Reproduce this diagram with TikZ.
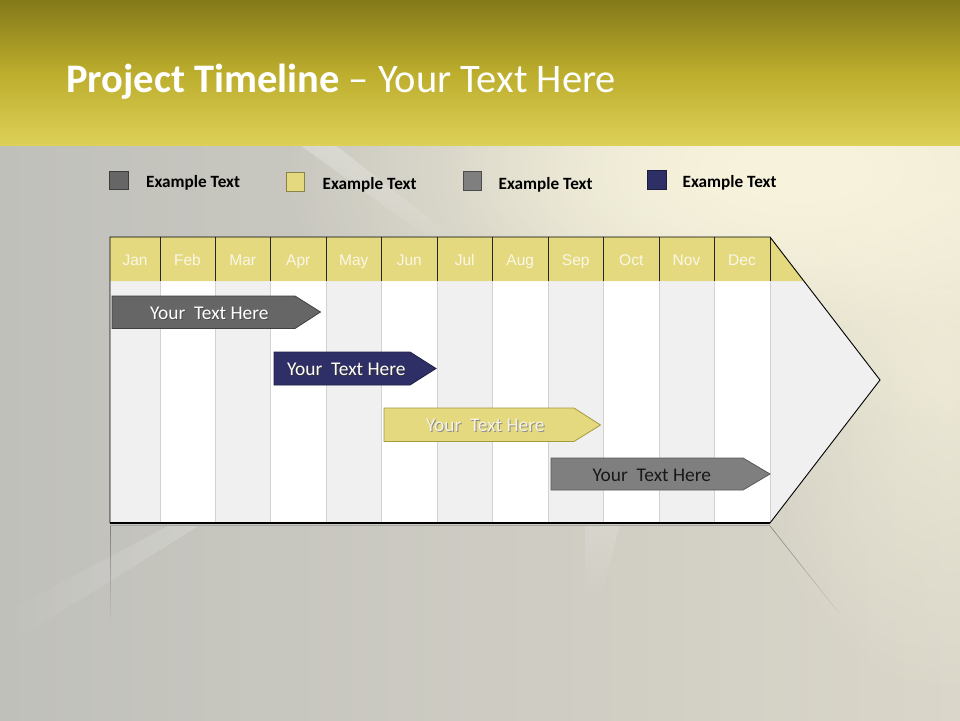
\documentclass[tikz,border=0pt]{standalone}
\usepackage{fontspec}
\setmainfont{Carlito}
\newfontfamily\arialf{Liberation Sans}
\usetikzlibrary{fadings}
\definecolor{hdrtop}{HTML}{837919}
\definecolor{hdrmid}{HTML}{BCAD2D}
\definecolor{hdrbot}{HTML}{DDD057}
\definecolor{bgleft}{HTML}{C0C0BB}
\definecolor{bgright}{HTML}{DAD6C9}
\definecolor{cream}{HTML}{F7F3DC}
\definecolor{ylw}{HTML}{E4D97F}
\definecolor{ylwdk}{HTML}{A49A3C}
\definecolor{colg}{HTML}{F0F0F0}
\definecolor{sepg}{HTML}{D2D2D2}
\definecolor{navy}{HTML}{2F2F68}
\definecolor{navydk}{HTML}{1E1E45}
\definecolor{dgray}{HTML}{666666}
\definecolor{mgray}{HTML}{7F7F7F}
\definecolor{edgek}{HTML}{404040}
\definecolor{monthtxt}{HTML}{FAF7E8}
\tikzfading[name=fadedown, top color=transparent!0, bottom color=transparent!100]
\tikzfading[name=fadeleft, left color=transparent!100, right color=transparent!0]
\tikzfading[name=softglow, inner color=transparent!0, outer color=transparent!100]
\tikzset{
  legsq/.style={draw=#1!60!black, line width=0.8pt},
  legtxt/.style={anchor=base west, font=\fontsize{17.2}{20}\selectfont\bfseries, text=black, inner sep=0pt},
  monthlbl/.style={anchor=base, font=\arialf\fontsize{15.5}{18}\selectfont, text=monthtxt, inner sep=0pt},
  bartxt/.style={anchor=base west, font=\fontsize{19.4}{22}\selectfont, inner sep=0pt},
  barshape/.style={line width=0.8pt},
}
\begin{document}
\begin{tikzpicture}[x=1pt,y=-1pt]
\useasboundingbox (0,0) rectangle (960,720);
% ---------- background ----------
\shade[left color=bgleft, right color=bgright] (0,145) rectangle (960,720);
\begin{scope}
\clip (0,145) rectangle (960,720);
\fill[cream, path fading=softglow] (800,170) ellipse (520 and 260);
\fill[cream, path fading=softglow] (800,170) ellipse (360 and 160);
\fill[cream, opacity=0.6, path fading=softglow] (940,380) ellipse (200 and 320);
\end{scope}
\fill[white, opacity=0.25, path fading=fadedown] (300,145) -- (335,145) -- (470,250) -- (445,250) -- cycle;
\fill[white, opacity=0.18, path fading=fadeleft] (0,615) -- (0,650) -- (200,525) -- (170,525) -- cycle;
\fill[white, opacity=0.15, path fading=fadedown] (585,525) -- (620,525) -- (600,600) -- (585,600) -- cycle;
% ---------- header band ----------
\shade[top color=hdrtop, bottom color=hdrbot, middle color=hdrmid] (0,0) rectangle (960,145);
\node[anchor=base west, inner sep=0pt, text=white] (title) at (66,92)
  {\fontsize{40.5}{45}\selectfont\textbf{Project Timeline} – Your Text Here};
% ---------- legend ----------
\fill[legsq=dgray, fill=dgray] (109,171) rectangle (128,189);
\node[legtxt] (l1) at (146,187) {Example Text};
\fill[legsq=ylw, fill=ylw] (286,172) rectangle (304,191);
\node[legtxt] (l2) at (322.5,189) {Example Text};
\fill[legsq=mgray, fill=mgray] (463,171) rectangle (481,190);
\node[legtxt] (l3) at (498.5,189) {Example Text};
\fill[legsq=navy, fill=navy] (647,170) rectangle (666,189);
\node[legtxt] (l4) at (682.5,187) {Example Text};
% ---------- table body ----------
\foreach \m/\a/\b/\f in {Jan/110/160/colg, Feb/160/215/white, Mar/215/270.5/colg,
  Apr/270.5/326/white, May/326/381.5/colg, Jun/381.5/437/white, Jul/437/492.5/colg,
  Aug/492.5/548/white, Sep/548/603.5/colg, Oct/603.5/659/white, Nov/659/714/colg,
  Dec/714/770/white}{
  \fill[\f] (\a,281) rectangle (\b,523);
}
\fill[colg] (770,281) -- (803.8,281) -- (880,380) -- (770,523) -- cycle;
% header row
\fill[ylw] (110,237) -- (770,237) -- (803.8,281) -- (110,281) -- cycle;
\foreach \x in {160,215,270.5,326,381.5,437,492.5,548,603.5,659,714,770}{
  \draw[sepg, line width=1pt] (\x,281) -- (\x,522);
  \draw[black!85, line width=1pt] (\x,237) -- (\x,281);
}
\foreach \m/\a/\b in {Jan/110/160, Feb/160/215, Mar/215/270.5,
  Apr/270.5/326, May/326/381.5, Jun/381.5/437, Jul/437/492.5,
  Aug/492.5/548, Sep/548/603.5, Oct/603.5/659, Nov/659/714, Dec/714/770}{
  \node[monthlbl] (m\m) at ({(\a+\b)/2},265) {\m};
}
% frame
\draw[black, line width=0.9pt] (110,523) -- (110,237) -- (770,237) -- (880,380) -- (770,523);
\draw[black, line width=1.4pt] (110,523) -- (770,523);
\draw[black!35, line width=1.2pt] (110,525.5) -- (770,525.5);
% reflection
\draw[black!50, line width=0.6pt, path fading=fadedown] (110,526) -- (110,622);
\draw[black!50, line width=0.6pt, path fading=fadedown] (770,526) -- (846,622);
% ---------- bars ----------
\filldraw[barshape, fill=dgray, draw=edgek] (112,296) -- (295,296) -- (320.5,312) -- (295,328.5) -- (112,328.5) -- cycle;
\node[bartxt, text=black!70] at (151,320.5) {Your\ \ Text Here};
\node[bartxt, text=white] (b1) at (150,319.5) {Your\ \ Text Here};
\filldraw[barshape, fill=navy, draw=navydk] (274,352) -- (410,352) -- (436,368.5) -- (410,385) -- (274,385) -- cycle;
\node[bartxt, text=black!80] at (288,376) {Your\ \ Text Here};
\node[bartxt, text=white] (b2) at (287,375) {Your\ \ Text Here};
\filldraw[barshape, fill=ylw, draw=ylwdk] (384,408) -- (574,408) -- (600.5,425) -- (574,441.5) -- (384,441.5) -- cycle;
\node[bartxt, text=black!45] at (427,432) {Your\ \ Text Here};
\node[bartxt, text=cream] (b3) at (426,431) {Your\ \ Text Here};
\filldraw[barshape, fill=mgray, draw=black!65] (551,458) -- (743,458) -- (770,474) -- (743,490) -- (551,490) -- cycle;
\node[bartxt, text=black!90] (b4) at (592.5,481) {Your\ \ Text Here};
\end{tikzpicture}
\end{document}
